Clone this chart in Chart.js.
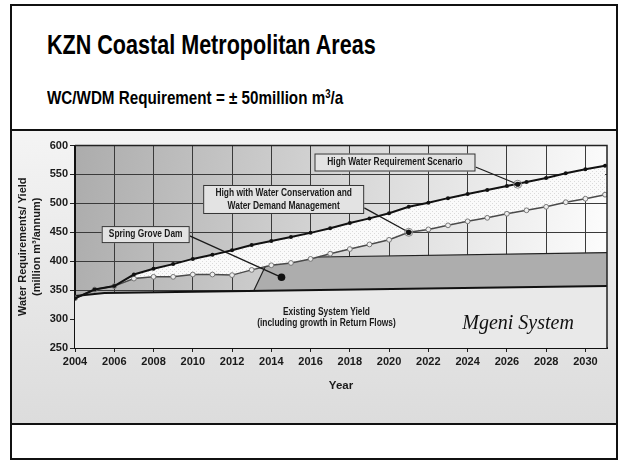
<!DOCTYPE html>
<html>
<head>
<meta charset="utf-8">
<script src="https://cdn.jsdelivr.net/npm/chart.js@4.4.1/dist/chart.umd.min.js"></script>
<style>
  body { margin: 0; background: #fff; font-family: 'Liberation Sans', Arial, sans-serif; }
  #frame { position: absolute; left: 10px; top: 4px; width: 604px; height: 452px; border: 2px solid #111; }
  .title { position: absolute; left: 35px; top: 25px; font-size: 28px; line-height: 1; font-weight: bold; color: #000; white-space: nowrap; transform: scaleX(0.77); transform-origin: 0 0; }
  .sub { position: absolute; left: 35px; top: 82px; font-size: 19px; line-height: 1; font-weight: bold; color: #000; white-space: nowrap; transform: scaleX(0.8); transform-origin: 0 0; }
  .rule { position: absolute; left: 0; width: 604px; height: 2px; background: #111; }
  #chartBox { position: absolute; left: 0; top: 125px; width: 604px; height: 292px; }
</style>
</head>
<body>
<div id="frame">
  <div class="title">KZN Coastal Metropolitan Areas</div>
  <div class="sub">WC/WDM Requirement = ± 50million m<sup style="font-size:12px;vertical-align:6px">3</sup>/a</div>
  <div class="rule" style="top:123px"></div>
  <div id="chartBox"><canvas id="chart"></canvas></div>
  <div class="rule" style="top:417px"></div>
</div>
<script>
// years on the x axis
const years = [2004, 2005, 2006, 2007, 2008, 2009, 2010, 2011, 2012, 2013, 2014, 2015, 2016, 2017,
  2018, 2019, 2020, 2021, 2022, 2023, 2024, 2025, 2026, 2027, 2028, 2029, 2030, 2031];

// High Water Requirement Scenario (million m3/annum)
const highDemand = [336, 351, 357, 377, 387, 395, 404, 411, 419, 428, 435, 442, 449, 457,
  466, 474, 483, 494, 501, 509, 516, 523, 530, 537, 544, 552, 559, 565];

// High with Water Conservation and Water Demand Management
const wcDemand = [336, 351, 357, 370, 373, 373, 377, 377, 376, 385, 393, 397, 404, 413,
  421, 429, 437, 450, 455, 462, 469, 475, 482, 488, 494, 502, 508, 515];

// Existing system yield (incl. return flows)
const yieldYears = [2004, 2005.5, 2031.1];
const yieldValues = [340, 345, 357];

// Spring Grove Dam added yield (top edge)
const damYears = [2013.1, 2013.9, 2031.1];
const damValues = [348.4, 406, 415];

const xTickYears = [2004, 2006, 2008, 2010, 2012, 2014, 2016, 2018, 2020, 2022, 2024, 2026, 2028, 2030];

const springLabel = ['Spring Grove Dam'];
const wcLabel = ['High with Water Conservation and', 'Water Demand Management'];
const highLabel = ['High Water Requirement Scenario'];
const yieldLabel = ['Existing System Yield', '(including growth in Return Flows)'];
const systemName = 'Mgeni System';

const pts = (xs, ys) => xs.map((x, i) => ({ x: x, y: ys[i] }));

function makeHatch() {
  const c = document.createElement('canvas');
  c.width = 4; c.height = 4;
  const g = c.getContext('2d');
  g.fillStyle = '#fafafa';
  g.fillRect(0, 0, 4, 4);
  g.fillStyle = '#dadada';
  g.fillRect(0, 0, 1, 1);
  g.fillRect(2, 2, 1, 1);
  return g.createPattern(c, 'repeat');
}

const notes = [
  { text: springLabel, cx: 2007.6, cy: 446, w: 88, h: 17, fy: 0.08, to: [2014.52, 372.2], dot: 'solid' },
  { text: wcLabel, cx: 2014.63, cy: 506.7, w: 161, h: 29, fy: 0.29, to: [2021, 450], dot: 'ring' },
  { text: highLabel, cx: 2020.3, cy: 570.6, w: 161, h: 18, fy: 0.25, to: [2026.55, 533], dot: 'ring' },
];

// slide text is a condensed bold sans
function condensedText(ctx, t, x, y) {
  ctx.save();
  ctx.translate(x, y);
  ctx.scale(0.8, 1);
  ctx.fillText(t, 0, 0);
  ctx.restore();
}

const bgPlugin = {
  id: 'bg',
  beforeDraw(chart) {
    const { ctx, width, height, chartArea: a } = chart;
    ctx.save();
    let g = ctx.createLinearGradient(0, 0, 0, height);
    g.addColorStop(0, '#f4f4f4');
    g.addColorStop(1, '#dcdcdc');
    ctx.fillStyle = g;
    ctx.fillRect(0, 0, width, height);
    g = ctx.createLinearGradient(a.left, a.top, a.right, a.top + a.height * 0.35);
    g.addColorStop(0, '#acacac');
    g.addColorStop(0.5, '#d6d6d6');
    g.addColorStop(1, '#fcfcfc');
    ctx.fillStyle = g;
    ctx.fillRect(a.left, a.top, a.width, a.height);
    ctx.restore();
  },
  afterDatasetsDraw(chart) {
    const { ctx, chartArea: a } = chart;
    const sx = chart.scales.x, sy = chart.scales.y;
    ctx.save();
    // plot frame
    ctx.strokeStyle = '#222';
    ctx.lineWidth = 1.5;
    ctx.beginPath();
    ctx.moveTo(a.left, a.top);
    ctx.lineTo(a.right, a.top);
    ctx.lineTo(a.right, a.bottom);
    ctx.stroke();

    ctx.font = "bold 10.5px 'Liberation Sans', Arial, sans-serif";
    ctx.textAlign = 'center';
    ctx.textBaseline = 'middle';
    notes.forEach((n) => {
      const cx = sx.getPixelForValue(n.cx);
      const cy = sy.getPixelForValue(n.cy);
      const tx = sx.getPixelForValue(n.to[0]);
      const ty = sy.getPixelForValue(n.to[1]);
      // leader
      ctx.strokeStyle = '#1a1a1a';
      ctx.lineWidth = 1.3;
      ctx.beginPath();
      ctx.moveTo(cx + n.w / 2, cy + n.fy * n.h);
      ctx.lineTo(tx, ty);
      ctx.stroke();
      if (n.dot === 'ring') {
        ctx.strokeStyle = '#888';
        ctx.lineWidth = 1;
        ctx.beginPath();
        ctx.arc(tx, ty, 4, 0, Math.PI * 2);
        ctx.stroke();
      }
      ctx.fillStyle = '#111';
      ctx.beginPath();
      ctx.arc(tx, ty, n.dot === 'ring' ? 2.6 : 3.8, 0, Math.PI * 2);
      ctx.fill();
      // box
      ctx.fillStyle = '#e3e3e3';
      ctx.fillRect(cx - n.w / 2, cy - n.h / 2, n.w, n.h);
      ctx.strokeStyle = '#333';
      ctx.lineWidth = 1;
      ctx.strokeRect(cx - n.w / 2 + 0.5, cy - n.h / 2 + 0.5, n.w - 1, n.h - 1);
      ctx.fillStyle = '#1a1a1a';
      n.text.forEach((t, i) => {
        condensedText(ctx, t, cx, cy + (i - (n.text.length - 1) / 2) * 12.4);
      });
    });

    // existing yield text
    ctx.fillStyle = '#1a1a1a';
    const ex = sx.getPixelForValue(2016.81);
    condensedText(ctx, yieldLabel[0], ex, sy.getPixelForValue(312.7));
    condensedText(ctx, yieldLabel[1], ex, sy.getPixelForValue(292.7));

    ctx.font = "italic 20px 'Liberation Serif', 'Times New Roman', serif";
    ctx.textBaseline = 'alphabetic';
    ctx.fillStyle = '#111';
    ctx.fillText(systemName, sx.getPixelForValue(2026.57), sy.getPixelForValue(282.9));
    ctx.restore();
  }
};

Chart.defaults.font.family = "'Liberation Sans', Arial, sans-serif";
Chart.defaults.color = '#1a1a1a';

new Chart(document.getElementById('chart'), {
  type: 'line',
  data: {
    datasets: [
      {
        label: 'High Water Requirement Scenario',
        data: pts(years, highDemand),
        borderColor: '#111',
        borderWidth: 2,
        pointRadius: 2,
        pointBackgroundColor: '#111',
        pointBorderWidth: 0,
        fill: false,
      },
      {
        label: 'High with WC/WDM',
        data: pts(years, wcDemand),
        borderColor: '#4a4a4a',
        borderWidth: 1.5,
        pointRadius: 2.4,
        pointBackgroundColor: '#eeeeee',
        pointBorderColor: '#777',
        pointBorderWidth: 1,
        fill: { target: 0 },
        backgroundColor: makeHatch(),
      },
      {
        label: 'Existing System Yield',
        data: pts(yieldYears, yieldValues),
        borderColor: '#111',
        borderWidth: 2,
        pointRadius: 0,
        fill: 'start',
        backgroundColor: '#e9e9e9',
      },
      {
        label: 'Spring Grove Dam',
        data: pts(damYears, damValues),
        borderColor: '#222',
        borderWidth: 1.2,
        pointRadius: 0,
        fill: 'start',
        backgroundColor: '#adadad',
      },
    ],
  },
  options: {
    responsive: true,
    maintainAspectRatio: false,
    animation: false,
    layout: { padding: { top: 14.5, right: 9, left: 0, bottom: 0 } },
    plugins: {
      legend: { display: false },
      tooltip: { enabled: false },
    },
    scales: {
      x: {
        type: 'linear',
        min: 2004,
        max: 2031.1,
        afterBuildTicks: (scale) => {
          scale.ticks = xTickYears.map((v) => ({ value: v }));
        },
        afterFit: (scale) => { scale.height = 75; },
        ticks: {
          callback: (v) => String(v),
          font: { size: 11, weight: 'bold' },
          color: '#1a1a1a',
          padding: 3,
          maxRotation: 0,
          autoSkip: false,
        },
        grid: { color: '#3a3a3a', lineWidth: 1, tickLength: 4, tickColor: '#222' },
        border: { color: '#111', width: 2 },
        title: {
          display: true,
          text: 'Year',
          font: { size: 11.5, weight: 'bold' },
          color: '#1a1a1a',
          padding: { top: 0, bottom: 30 },
        },
      },
      y: {
        min: 250,
        max: 600,
        afterFit: (scale) => { scale.width = 63; },
        ticks: {
          stepSize: 50,
          font: { size: 11, weight: 'bold' },
          color: '#1a1a1a',
          padding: 2,
        },
        grid: { color: '#3a3a3a', lineWidth: 1, tickLength: 5, tickColor: '#222' },
        border: { color: '#111', width: 2 },
        title: {
          display: true,
          text: ['Water Requirements/ Yield', '(million m³/annum)'],
          font: { size: 11, weight: 'bold', lineHeight: 1.3 },
          color: '#1a1a1a',
          padding: { top: 3.5, bottom: 0 },
        },
      },
    },
  },
  plugins: [bgPlugin],
});
</script>
</body>
</html>
